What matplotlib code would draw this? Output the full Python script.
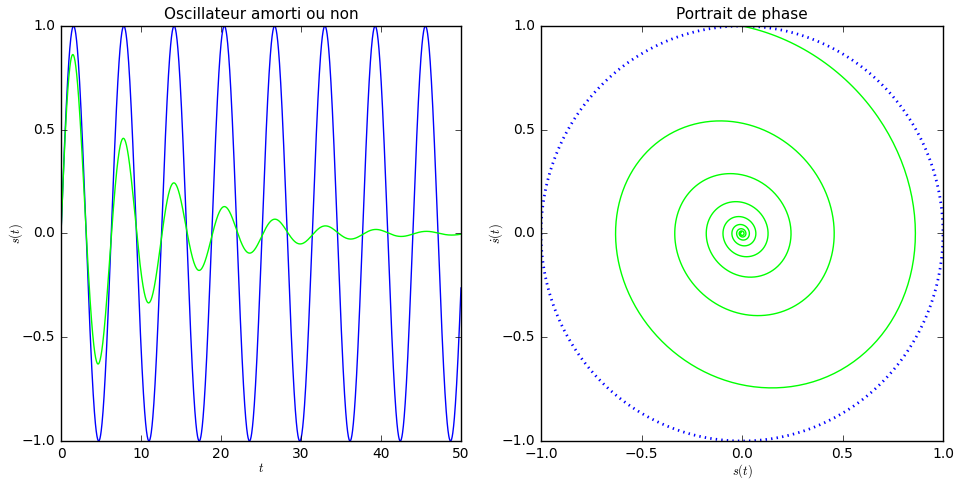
import matplotlib
matplotlib.use('Agg')
import matplotlib.pyplot as plt
import numpy as np

plt.style.use('classic')

# oscillator parameters (peaks 0.86, -0.63, 0.46 ... period ~2*pi)
omega0 = 1.0       # natural pulsation
damping = 0.1      # lambda in s'' + 2*lambda*s' + omega0^2*s = 0
s0, v0 = 0.0, 1.0  # initial position / velocity
t_max = 50.0
n_pts = 2000

titles = ["Oscillateur amorti ou non", "Portrait de phase"]

t = np.linspace(0, t_max, n_pts)
# undamped solution
s_free = s0*np.cos(omega0*t) + v0/omega0*np.sin(omega0*t)
ds_free = -s0*omega0*np.sin(omega0*t) + v0*np.cos(omega0*t)
# damped solution (underdamped)
w = np.sqrt(omega0**2 - damping**2)
env = np.exp(-damping*t)
s_damp = env*(v0/w)*np.sin(w*t)
ds_damp = env*v0*(np.cos(w*t) - damping/w*np.sin(w*t))

# one revolution is enough for the circle, otherwise dots overlap
one_turn = t <= 2*np.pi/omega0

W, H = 957, 480
fig = plt.figure(figsize=(W/100, H/100), dpi=100)
ax1 = fig.add_axes([61/W, 1-441/H, 400/W, 415/H])
ax2 = fig.add_axes([541/W, 1-441/H, 402/W, 415/H])

ax1.plot(t, s_free, 'b-')
ax1.plot(t, s_damp, '-', color='#00ff00')
ax1.set_xlim(0, t_max)
ax1.set_ylim(-1, 1)
ax1.set_xticks([0, 10, 20, 30, 40, 50])
ax1.set_yticks([-1.0, -0.5, 0.0, 0.5, 1.0])
ax1.set_xlabel('$t$', fontsize=9, labelpad=1)
ax1.set_ylabel('$s(t)$', fontsize=9, labelpad=-2)
ax1.set_title(titles[0], fontsize=11)

ax2.plot(s_free[one_turn], ds_free[one_turn], 'b:', lw=2)
ax2.plot(s_damp, ds_damp, '-', color='#00ff00')
ax2.set_xlim(-1, 1)
ax2.set_ylim(-1, 1)
ax2.set_xticks([-1.0, -0.5, 0.0, 0.5, 1.0])
ax2.set_yticks([-1.0, -0.5, 0.0, 0.5, 1.0])
ax2.set_xlabel('$s(t)$', fontsize=9, labelpad=1)
ax2.set_ylabel(r'$\dot{s}(t)$', fontsize=9, labelpad=-2)
ax2.set_title(titles[1], fontsize=11)

for ax in (ax1, ax2):
    ax.tick_params(labelsize=10)

fig.savefig('out.png', dpi=100)
